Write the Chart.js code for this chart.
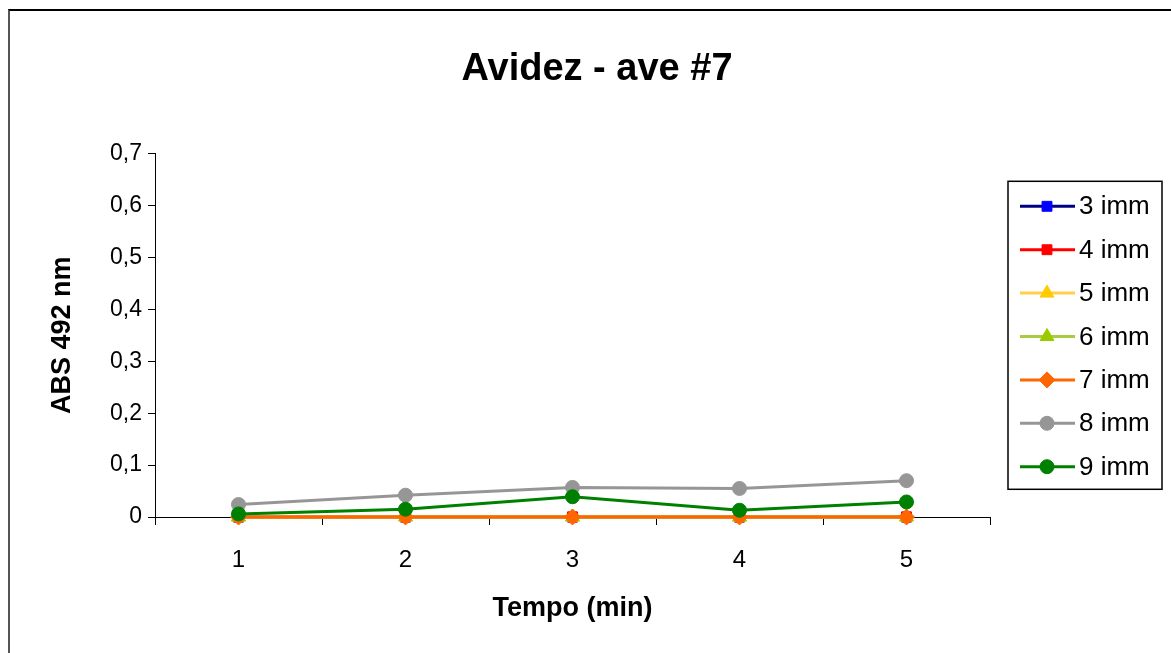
<!DOCTYPE html>
<html>
<head>
<meta charset="utf-8">
<script src="https://cdn.jsdelivr.net/npm/chart.js@4/dist/chart.umd.min.js"></script>
<style>
  body { margin: 0; background: #fff; overflow: hidden; }
  #wrap { position: absolute; left: 0; top: 0; width: 1171px; height: 653px; }
  #frame { position: absolute; left: 8px; top: 9px; width: 1300px; height: 800px;
           border-top: 2px solid #000; border-left: 2px solid #555; pointer-events: none; }
</style>
</head>
<body>
<div id="wrap">
  <canvas id="avidezChart" width="1171" height="653"></canvas>
  <div id="frame"></div>
</div>
<script>
// dati
const tempi = ['1', '2', '3', '4', '5'];
const yTickLabels = ['0', '0,1', '0,2', '0,3', '0,4', '0,5', '0,6', '0,7'];

const imm3 = [0, 0, 0, 0, 0];
const imm4 = [0, 0, 0, 0, 0];
const imm5 = [0, 0, 0, 0, 0];
const imm6 = [0, 0, 0, 0, 0];
const imm7 = [0, 0, 0, 0, 0];
const imm8 = [0.024, 0.042, 0.057, 0.055, 0.07];
const imm9 = [0.006, 0.015, 0.039, 0.013, 0.029];

const serie = [
  { label: '3 imm', data: imm3, line: '#000080', fill: '#0000ff', style: 'rect', r: 7 },
  { label: '4 imm', data: imm4, line: '#ff0000', fill: '#ff0000', style: 'rect', r: 7 },
  { label: '5 imm', data: imm5, line: '#ffd04a', fill: '#ffcc00', style: 'triangle', r: 8 },
  { label: '6 imm', data: imm6, line: '#a8cc40', fill: '#99cc00', style: 'triangle', r: 8 },
  { label: '7 imm', data: imm7, line: '#ff6600', fill: '#ff6600', style: 'rectRot', r: 8 },
  { label: '8 imm', data: imm8, line: '#969696', fill: '#969696', style: 'circle', r: 7 },
  { label: '9 imm', data: imm9, line: '#008000', fill: '#008000', style: 'circle', r: 7 }
];

const FONT = '"Liberation Sans", Arial, sans-serif';

// spazio a destra per la legenda (box di layout), cosi' il titolo resta centrato sulla tela
const legendaBox = {
  id: 'legendaBox',
  beforeInit(chart) {
    const box = {
      position: 'right', weight: 0, fullSize: false, options: {},
      top: 0, left: 0, right: 0, bottom: 0, width: 0, height: 0,
      isHorizontal: () => false,
      update(maxWidth, maxHeight) { this.width = 181; this.height = maxHeight; },
      draw() {}
    };
    Chart.layouts.addBox(chart, box);
  },
  afterDraw(chart) {
    const ctx = chart.ctx;
    const area = chart.chartArea;
    const w = 154, h = 308, step = 43.4;
    const left = area.right + 18;
    const top = (area.top + area.bottom) / 2 - h / 2;
    ctx.save();
    ctx.strokeStyle = '#000';
    ctx.lineWidth = 1.5;
    ctx.strokeRect(left, top, w, h);
    chart.data.datasets.forEach((ds, i) => {
      const y = top + 25 + i * step;
      ctx.strokeStyle = ds.borderColor;
      ctx.lineWidth = 3;
      ctx.beginPath();
      ctx.moveTo(left + 12, y);
      ctx.lineTo(left + 67, y);
      ctx.stroke();
      ctx.fillStyle = ds.pointBackgroundColor;
      ctx.strokeStyle = ds.pointBackgroundColor;
      ctx.lineWidth = 1;
      Chart.helpers.drawPoint(ctx, { pointStyle: ds.pointStyle, radius: ds.pointRadius, borderWidth: 1, rotation: 0 }, left + 39, y);
      ctx.fillStyle = '#000';
      ctx.font = '26px ' + FONT;
      ctx.textBaseline = 'middle';
      ctx.textAlign = 'left';
      ctx.fillText(ds.label, left + 71, y + 1);
    });
    ctx.restore();
  }
};

const ctx = document.querySelector('#avidezChart').getContext('2d');
new Chart(ctx, {
  type: 'line',
  data: {
    labels: tempi,
    datasets: serie.map((s, i) => ({
      label: s.label,
      data: s.data,
      order: serie.length - i,
      clip: false,
      borderColor: s.line,
      backgroundColor: s.fill,
      pointBackgroundColor: s.fill,
      pointBorderColor: s.fill,
      pointStyle: s.style,
      pointRadius: s.r,
      pointBorderWidth: 1,
      borderWidth: 3,
      tension: 0,
      fill: false
    }))
  },
  options: {
    responsive: false,
    animation: false,
    layout: { padding: { left: 23, right: 0, top: 10, bottom: 10 } },
    plugins: {
      legend: { display: false },
      tooltip: { enabled: false },
      title: {
        display: true,
        text: 'Avidez - ave #7',
        color: '#000',
        font: { family: FONT, size: 38, weight: 'bold' },
        padding: { top: 37, bottom: 61 }
      }
    },
    scales: {
      x: {
        offset: true,
        grid: { offset: true, drawOnChartArea: false, tickLength: 8, color: '#000' },
        border: { color: '#000', width: 1 },
        ticks: { color: '#000', padding: 21, font: { family: FONT, size: 24 } },
        title: {
          display: true, text: 'Tempo (min)', color: '#000',
          font: { family: FONT, size: 27, weight: 'bold' },
          padding: { top: 0, bottom: 18 }
        },
        afterFit: scale => { scale.height = 653 - 10 - 517; }
      },
      y: {
        min: 0, max: 0.7,
        grid: { drawOnChartArea: false, tickLength: 7, color: '#000' },
        border: { color: '#000', width: 1 },
        ticks: {
          stepSize: 0.1, color: '#000', padding: 6,
          font: { family: FONT, size: 23 },
          callback: (v, i) => yTickLabels[i]
        },
        title: {
          display: true, text: 'ABS 492 nm', color: '#000',
          font: { family: FONT, size: 27, weight: 'bold' },
          padding: { top: 23, bottom: 0 }
        },
        afterFit: scale => { scale.width = 155 - 23; }
      }
    }
  },
  plugins: [legendaBox]
});
</script>
</body>
</html>
